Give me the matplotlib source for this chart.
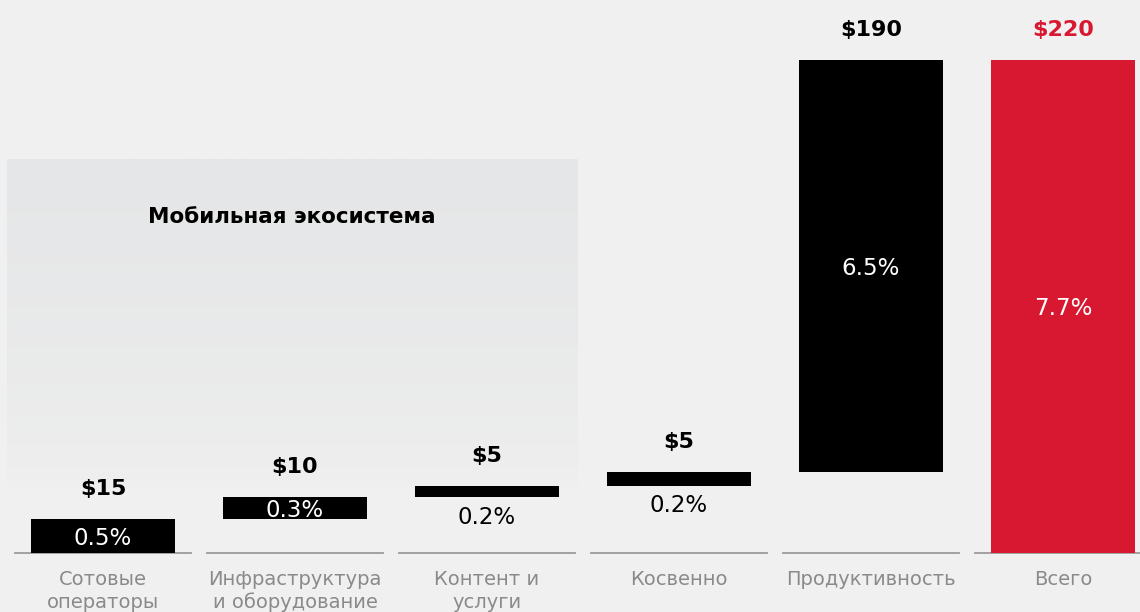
#!/usr/bin/env python3
"""Waterfall: mobile ecosystem contribution, Russian labels."""
import matplotlib.pyplot as plt
import numpy as np
from matplotlib.colors import LinearSegmentedColormap

CATEGORIES = [
    "Сотовые\nоператоры",
    "Инфраструктура\nи оборудование",
    "Контент и\nуслуги",
    "Косвенно",
    "Продуктивность",
    "Всего",
]
# bar heights (steps, then total)
STEPS = [15, 10, 5, 6, 184]
TOTAL = 220
VALUE_LABELS = ["$15", "$10", "$5", "$5", "$190", "$220"]
PCT_LABELS = ["0.5%", "0.3%", "0.2%", "0.2%", "6.5%", "7.7%"]
PCT_INSIDE = [True, True, False, False, True, True]

BG = "#f0f0f0"
PANEL = "#e5e6e7"
RED = "#d81830"
GREY_TXT = "#8a8a8a"

plt.rcParams["font.family"] = ["DejaVu Sans"]

heights = STEPS + [TOTAL]
bottoms = list(np.concatenate([[0], np.cumsum(STEPS)[:-1]])) + [0]
colors = ["black"] * len(STEPS) + [RED]

fig = plt.figure(figsize=(11.4, 6.12), dpi=100)
fig.patch.set_facecolor(BG)
ax = fig.add_axes([0, 0, 1, 1])
ax.set_facecolor(BG)

px_per_unit = 493 / TOTAL
ax.set_xlim(-103 / 192, (1140 - 103) / 192)
ax.set_ylim(-(612 - 553) / px_per_unit, TOTAL + 60 / px_per_unit)
ax.axis("off")

# shaded "mobile ecosystem" panel fading toward the bottom
cmap = LinearSegmentedColormap.from_list("fade", [BG, PANEL])
grad = np.linspace(0, 1, 256).reshape(-1, 1) ** 0.6
ax.imshow(grad, cmap=cmap, aspect="auto", origin="lower",
          extent=(-0.5, 2.47, 28, 175.5), zorder=0, interpolation="bicubic")
ax.text(0.985, 150, "Мобильная экосистема", ha="center", va="center",
        fontsize=15.5, fontweight="bold", color="black", zorder=3)

x = np.arange(len(CATEGORIES))
ax.bar(x, heights, width=0.75, bottom=bottoms, color=colors, zorder=2)

for xi in x:
    ax.plot([xi - 0.46, xi + 0.46], [0, 0], color="#9a9a9a", lw=1.3, zorder=1)
    ax.text(xi, -7.5, CATEGORIES[xi], ha="center", va="top", fontsize=14,
            color=GREY_TXT, linespacing=1.25)

for xi, (b, h) in enumerate(zip(bottoms, heights)):
    top = b + h
    vcol = RED if xi == len(x) - 1 else "black"
    ax.text(xi, top + 9, VALUE_LABELS[xi], ha="center", va="bottom",
            fontsize=16, fontweight="bold", color=vcol)
    if PCT_INSIDE[xi]:
        ax.text(xi, b + h / 2 - 1, PCT_LABELS[xi], ha="center", va="center",
                fontsize=16.5, color="white", zorder=3)
    else:
        ax.text(xi, b - 9, PCT_LABELS[xi], ha="center", va="center",
                fontsize=16.5, color="black", zorder=3)

fig.savefig("out.png", dpi=100, facecolor=BG)
